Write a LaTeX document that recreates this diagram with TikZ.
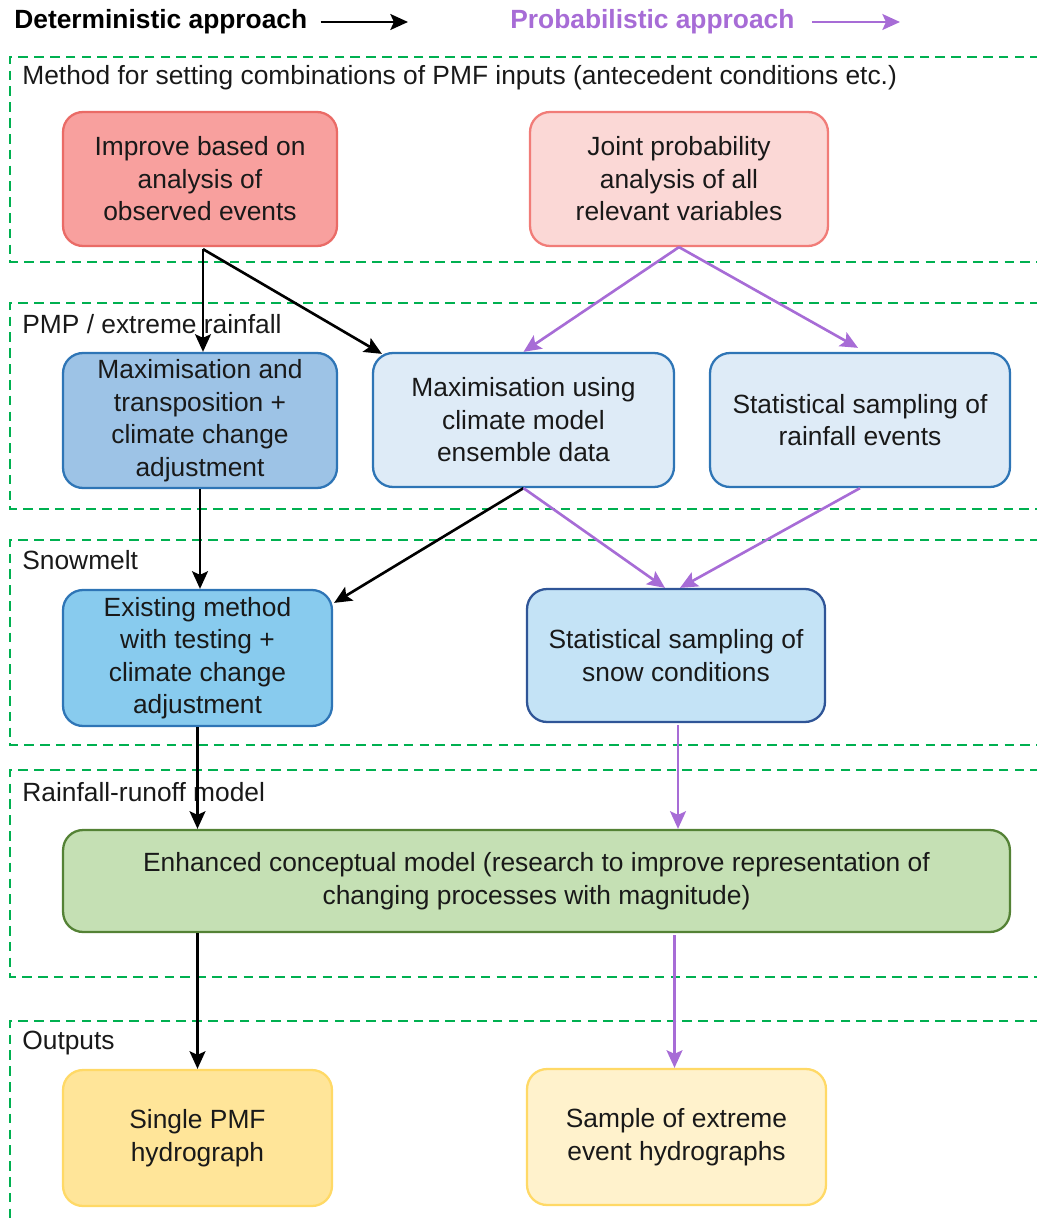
\documentclass[tikz,border=0pt]{standalone}
\usepackage{fontspec}
\setmainfont{Liberation Sans}
\usetikzlibrary{arrows.meta, positioning, calc}
\definecolor{zgreen}{RGB}{0, 176, 80}
\definecolor{zpurple}{RGB}{167, 108, 214}
\definecolor{zredfill}{RGB}{248, 160, 158}
\definecolor{zreddraw}{RGB}{234, 107, 102}
\definecolor{zpinkfill}{RGB}{251, 216, 214}
\definecolor{zpinkdraw}{RGB}{241, 124, 120}
\definecolor{zbluedraw}{RGB}{46, 117, 182}
\definecolor{zbluemid}{RGB}{157, 195, 230}
\definecolor{zbluelight}{RGB}{222, 235, 247}
\definecolor{zbluesky}{RGB}{136, 203, 238}
\definecolor{zbluesnow}{RGB}{196, 227, 246}
\definecolor{zbluedark}{RGB}{47, 85, 151}
\definecolor{zgreenfill}{RGB}{197, 224, 180}
\definecolor{zgreendraw}{RGB}{84, 130, 53}
\definecolor{zyellowfill}{RGB}{255, 229, 153}
\definecolor{zpalefill}{RGB}{255, 242, 204}
\definecolor{zyellowdraw}{RGB}{255, 217, 102}

\begin{document}
\begin{tikzpicture}[x=0.02cm, y=-0.02cm,
  box/.style={rectangle, rounded corners=0.4cm, line width=1.3pt,
              align=center, inner sep=1pt, text=black!90,
              font=\fontsize{15}{18.5}\selectfont},
  group/.style={zgreen, line width=1.6pt, dash pattern=on 5.5pt off 3.5pt},
  grouplabel/.style={anchor=west, inner sep=0pt, text=black!90, font=\fontsize{15}{18.5}\selectfont},
  arr/.style={-{Stealth[length=10pt, width=9pt, inset=2pt]}, line width=1.5pt, black},
  parr/.style={-{Stealth[length=10pt, width=9pt, inset=2pt]}, line width=1.5pt, zpurple}
]
\useasboundingbox (0,0) rectangle (1036,1223);

% legend
\node[anchor=west, inner sep=0pt, font=\fontsize{15}{18.5}\selectfont\bfseries] (detlab) at (14,22) {Deterministic approach};
\coordinate (detend) at (408,22);
\draw[arr] ($(detlab.east)+(13,0)$) -- (detend);
\node[anchor=west, inner sep=0pt, text=zpurple, font=\fontsize{15}{18.5}\selectfont\bfseries] (problab) at (510,22) {Probabilistic approach};
\coordinate (probend) at (900,22);
\draw[parr] ($(problab.east)+(17,0)$) -- (probend);

% groups
\draw[group] (1040,57) -- (10,57) -- (10,262) -- (1040,262);
\draw[group] (1040,303) -- (10,303) -- (10,509) -- (1040,509);
\draw[group] (1040,540) -- (10,540) -- (10,745) -- (1040,745);
\draw[group] (1040,770) -- (10,770) -- (10,977) -- (1040,977);
\draw[group] (1040,1021) -- (10,1021) -- (10,1230);

\node[grouplabel] (g1) at (22,78) {Method for setting combinations of PMF inputs (antecedent conditions etc.)};
\node[grouplabel] (g2) at (22,324) {PMP / extreme rainfall};
\node[grouplabel] (g3) at (22,560) {Snowmelt};
\node[grouplabel] (g4) at (22,792) {Rainfall-runoff model};
\node[grouplabel] (g5) at (22,1043) {Outputs};

% boxes
\node[box, draw=zreddraw, fill=zredfill, minimum width=5.48cm, minimum height=2.68cm] (impr) at (200,179)
  {Improve based on\\analysis of\\observed events};
\node[box, draw=zpinkdraw, fill=zpinkfill, minimum width=5.96cm, minimum height=2.68cm] (joint) at (679,179)
  {Joint probability\\analysis of all\\relevant variables};

\node[box, draw=zbluedraw, fill=zbluemid, minimum width=5.48cm, minimum height=2.7cm] (maxt) at (200,420.5)
  {Maximisation and\\transposition +\\climate change\\adjustment};
\node[box, draw=zbluedraw, fill=zbluelight, minimum width=6.02cm, minimum height=2.68cm] (maxc) at (523.5,420)
  {Maximisation using\\climate model\\ensemble data};
\node[box, draw=zbluedraw, fill=zbluelight, minimum width=6.0cm, minimum height=2.68cm] (statr) at (860,420)
  {Statistical sampling of\\rainfall events};

\node[box, draw=zbluedraw, fill=zbluesky, minimum width=5.38cm, minimum height=2.72cm] (exist) at (197.5,658)
  {Existing method\\with testing +\\climate change\\adjustment};
\node[box, draw=zbluedark, fill=zbluesnow, minimum width=5.96cm, minimum height=2.66cm] (snow) at (676,655.5)
  {Statistical sampling of\\snow conditions};

\node[box, draw=zgreendraw, fill=zgreenfill, minimum width=18.94cm, minimum height=2.04cm] (enh) at (536.5,881)
  {Enhanced conceptual model (research to improve representation of\\changing processes with magnitude)};

\node[box, draw=zyellowdraw, fill=zyellowfill, minimum width=5.38cm, minimum height=2.72cm] (single) at (197.5,1138)
  {Single PMF\\hydrograph};
\node[box, draw=zyellowdraw, fill=zpalefill, minimum width=5.98cm, minimum height=2.72cm] (sample) at (676.5,1137)
  {Sample of extreme\\event hydrographs};

% connectors
\draw[arr] ($(impr.south)+(3,2)$) -- ($(maxt.north)+(3,0)$);
\draw[arr] ($(impr.south)+(3,2)$) -- ($(maxc.north west)+(10,2)$);
\draw[parr] (joint.south) -- (maxc.north);
\draw[parr] (joint.south) -- ($(statr.north)+(-2,-4)$);
\draw[arr] (maxt.south) -- (maxt.south |- exist.north);
\draw[arr] (maxc.south) -- ($(exist.north east)+(1,14)$);
\draw[parr] (maxc.south) -- ($(snow.north)+(-11,0)$);
\draw[parr] (statr.south) -- ($(snow.north)+(4,0)$);
\draw[arr] (exist.south) -- (exist.south |- enh.north);
\draw[parr] ($(snow.south)+(2,2)$) -- ($(snow.south |- enh.north)+(2,0)$);
\draw[arr] (single.north |- enh.south) -- (single.north);
\draw[parr] ($(sample.north |- enh.south)+(-2,2)$) -- ($(sample.north)+(-2,0)$);
\end{tikzpicture}
\end{document}
